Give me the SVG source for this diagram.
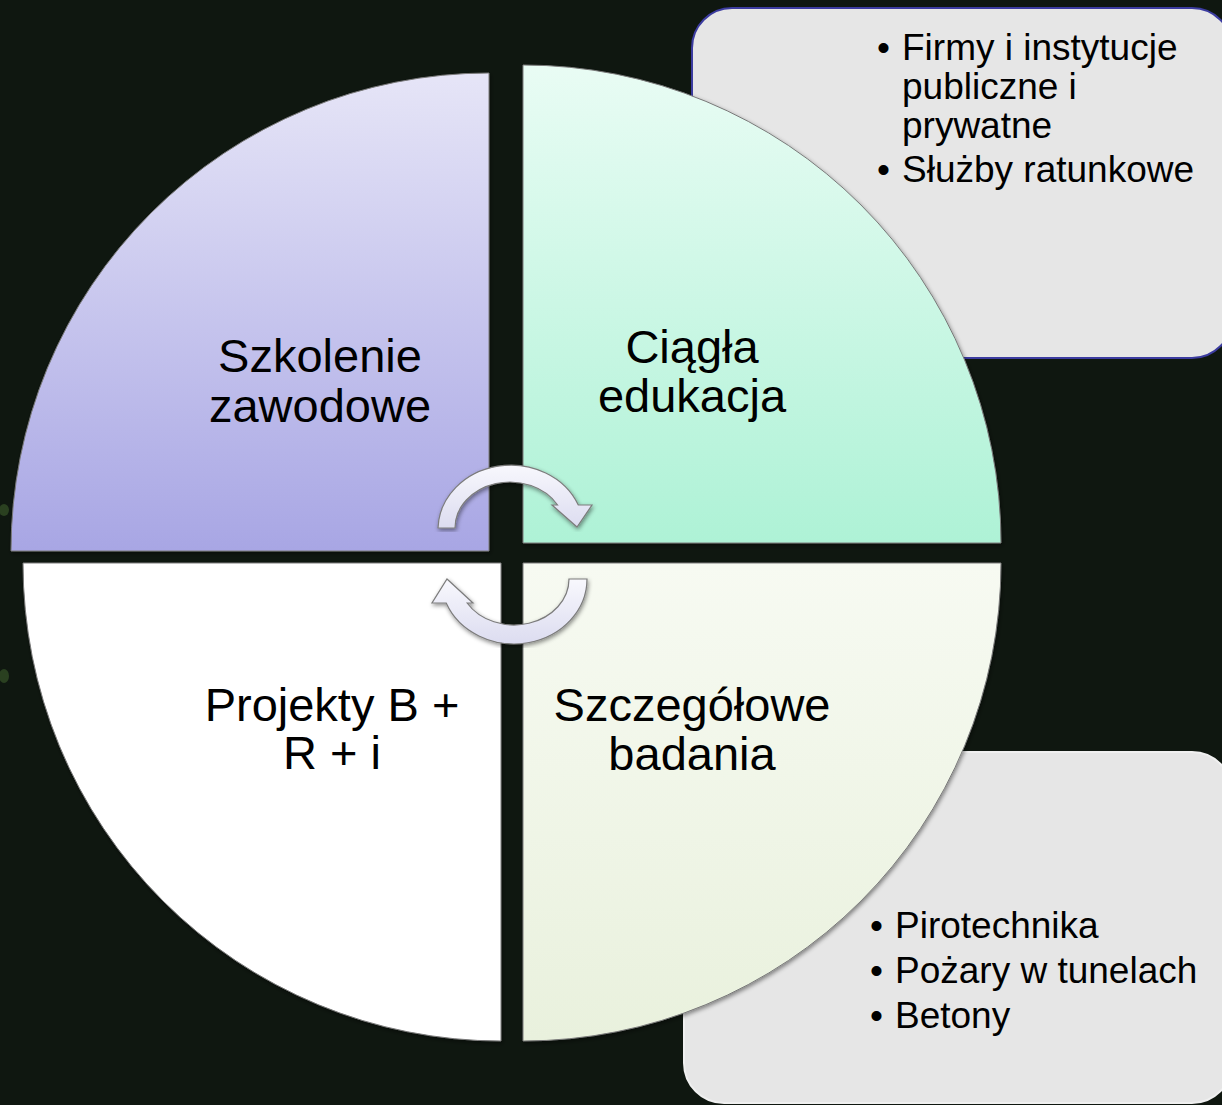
<svg xmlns="http://www.w3.org/2000/svg" width="1222" height="1105" viewBox="0 0 1222 1105">
  <defs>
    <linearGradient id="gTL" x1="0" y1="0" x2="0" y2="1">
      <stop offset="0" stop-color="#e6e5f7"/>
      <stop offset="1" stop-color="#a8a6e4"/>
    </linearGradient>
    <linearGradient id="gTR" x1="0" y1="0" x2="0" y2="1">
      <stop offset="0" stop-color="#e9fcf4"/>
      <stop offset="1" stop-color="#aef2d6"/>
    </linearGradient>
    <linearGradient id="gBR" x1="0" y1="0" x2="0" y2="1">
      <stop offset="0" stop-color="#f7faf2"/>
      <stop offset="1" stop-color="#e9f1dd"/>
    </linearGradient>
    <linearGradient id="gArrow" x1="0" y1="0" x2="0" y2="1">
      <stop offset="0" stop-color="#f8f8fd"/>
      <stop offset="1" stop-color="#dcdcf0"/>
    </linearGradient>
    <filter id="sh" x="-5%" y="-5%" width="110%" height="110%">
      <feDropShadow dx="1" dy="2" stdDeviation="2" flood-color="#000" flood-opacity="0.45"/>
    </filter>
  </defs>
  <style>
    .q { stroke: #7a7a7a; stroke-width: 1; filter: url(#sh); }
    .lbl { font-family: "Liberation Sans", Arial, sans-serif; font-size: 47px; fill: #000; text-anchor: middle; }
    .bl { font-family: "Liberation Sans", Arial, sans-serif; font-size: 37px; fill: #000; }
    .box { fill: #e6e6e6; }
    .arrow { fill: url(#gArrow); stroke: #7c7c7c; stroke-width: 1.2; filter: url(#sh); }
  </style>
  <rect x="0" y="0" width="1222" height="1105" fill="#0f1710"/>
  <ellipse cx="4" cy="510" rx="5" ry="6" fill="#2a4020"/>
  <ellipse cx="4" cy="676" rx="5" ry="7" fill="#2a4020"/>

  <g id="box-top">
    <rect class="box" x="692" y="8" width="540" height="350" rx="40" stroke="#3c3ca0" stroke-width="2"/>
    <text class="bl" x="877" y="60">•</text>
    <text class="bl" x="902" y="60">Firmy i instytucje</text>
    <text class="bl" x="902" y="99">publiczne i</text>
    <text class="bl" x="902" y="138">prywatne</text>
    <text class="bl" x="877" y="182">•</text>
    <text class="bl" x="902" y="182">Służby ratunkowe</text>
  </g>

  <g id="box-bottom">
    <rect class="box" x="684" y="752" width="548" height="351" rx="40" stroke="#f0f0f0" stroke-width="2"/>
    <text class="bl" x="870" y="938">•</text>
    <text class="bl" x="895" y="938">Pirotechnika</text>
    <text class="bl" x="870" y="983">•</text>
    <text class="bl" x="895" y="983">Pożary w tunelach</text>
    <text class="bl" x="870" y="1028">•</text>
    <text class="bl" x="895" y="1028">Betony</text>
  </g>

  <g id="q-szkolenie">
    <path class="q" d="M489,551 L11,551 A478,478 0 0 1 489,73 Z" fill="url(#gTL)"/>
    <text class="lbl" x="320" y="372">Szkolenie</text>
    <text class="lbl" x="320" y="422">zawodowe</text>
  </g>

  <g id="q-ciagla">
    <path class="q" d="M523,543 L523,65 A478,478 0 0 1 1001,543 Z" fill="url(#gTR)"/>
    <text class="lbl" x="692" y="363">Ciągła</text>
    <text class="lbl" x="692" y="412">edukacja</text>
  </g>

  <g id="q-szczegolowe">
    <path class="q" d="M523,563 L1001,563 A478,478 0 0 1 523,1041 Z" fill="url(#gBR)"/>
    <text class="lbl" x="692" y="721">Szczegółowe</text>
    <text class="lbl" x="692" y="770">badania</text>
  </g>

  <g id="q-projekty">
    <path class="q" d="M501,563 L501,1041 A478,478 0 0 1 23,563 Z" fill="#ffffff"/>
    <text class="lbl" x="332" y="721">Projekty B +</text>
    <text class="lbl" x="332" y="769">R + i</text>
  </g>

  <g id="connectors">
    <path class="arrow" d="M438,528 A73,65 0 0 1 578.3,505 L592,505 L577,527 L552,505 L557.6,505 A55,46 0 0 0 455,528 Z"/>
    <path class="arrow" d="M587,579 A73,65 0 0 1 446.2,603 L432,603 L447,579 L473,603 L467.1,603 A55,46 0 0 0 569,579 Z"/>
  </g>
</svg>
